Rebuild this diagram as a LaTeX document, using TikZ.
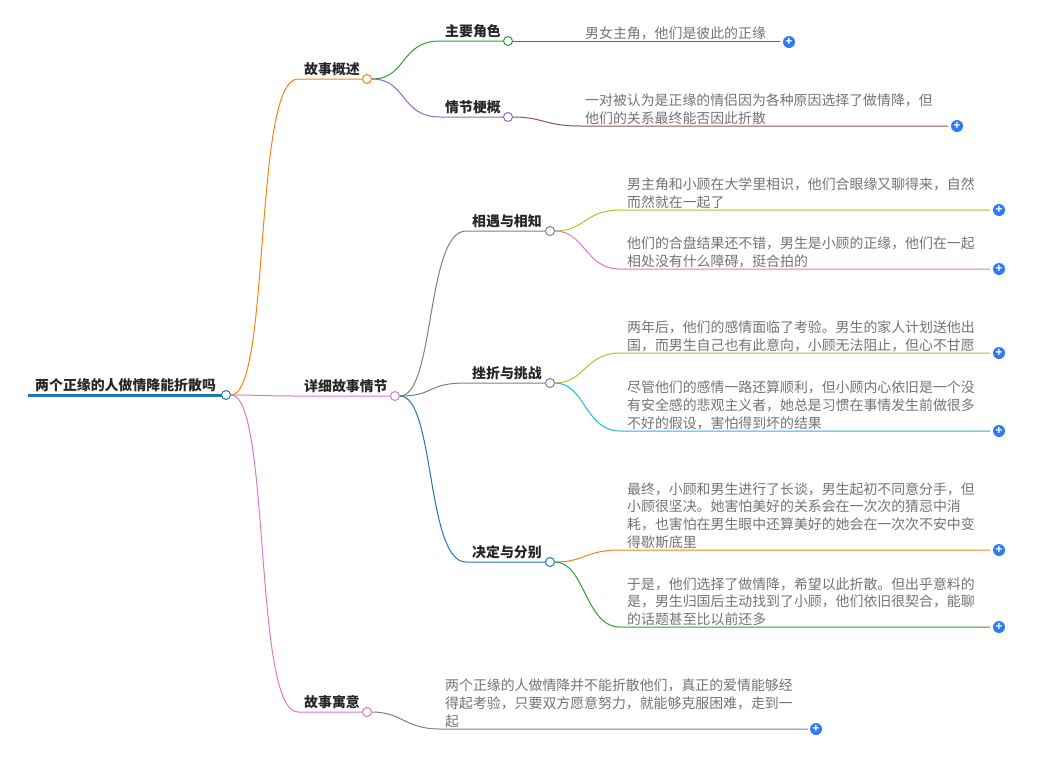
\documentclass[tikz,border=0pt]{standalone}
\usepackage{fontspec}
\setmainfont{Noto Sans CJK SC}
\usetikzlibrary{positioning}
\definecolor{corange}{HTML}{FF7F0E}
\definecolor{cgreen}{HTML}{2CA02C}
\definecolor{cred}{HTML}{B0413E}
\definecolor{cpurple}{HTML}{9467BD}
\definecolor{cbrown}{HTML}{8C564B}
\definecolor{cpink}{HTML}{E377C2}
\definecolor{cgray}{HTML}{7F7F7F}
\definecolor{colive}{HTML}{BCBD22}
\definecolor{ccyan}{HTML}{17BECF}
\definecolor{cblue}{HTML}{1F77B4}
\definecolor{cplus}{HTML}{2F7BF5}
\begin{document}
\begin{tikzpicture}[x=1pt,y=-1pt,
    every node/.style={font=\fontsize{13.9}{17.8}\selectfont},
    topic/.style={anchor=south west, inner sep=0pt, font=\fontsize{13.9}{16}\selectfont\bfseries, text=black!85},
    leaf/.style={anchor=south west, inner sep=0pt, align=left, text=black!55},
    knob/.style={circle, draw=#1, fill=white, line width=1pt, minimum size=9pt, inner sep=0pt},
    plus/.style={circle, fill=cplus, minimum size=12pt, inner sep=0pt, text=white, font=\bfseries\fontsize{11}{11}\selectfont},
    link/.style={draw=#1, line width=1pt}
]
\useasboundingbox (0,0) rectangle (1052,756);

% root
\node[topic] (root) at (35,392) {两个正缘的人做情降能折散吗};
\draw[cblue, line width=3pt] (28,395) -- (222,395);
\node[knob=cblue] (kroot) at (226,395) {};

% level one
\node[topic] (sum) at (304,76) {故事概述};
\node[knob=corange] (ksum) at (367,79) {};
\node[topic] (det) at (304,393) {详细故事情节};
\node[knob=cpink] (kdet) at (395,396) {};
\node[topic] (mor) at (304,709) {故事寓意};
\node[knob=cpink] (kmor) at (367,712) {};
\coordinate (csum) at (298,79);
\coordinate (cdet) at (298,396);
\coordinate (cmor) at (298,712);
\draw[link=corange] (kroot) .. controls +(45,0) and +(-45,0) .. (csum) -- (ksum);
\draw[link=cpink] (kroot) .. controls +(35,0) and +(-35,0) .. (cdet) -- (kdet);
\draw[link=cpink] (kroot) .. controls +(45,0) and +(-45,0) .. (cmor) -- (kmor);

% level two
\node[topic] (role) at (445,38) {主要角色};
\node[knob=cgreen] (krole) at (508,41) {};
\node[topic] (plot) at (445,114) {情节梗概};
\node[knob=cpurple] (kplot) at (508,117) {};
\draw[link=cgreen] (ksum) .. controls +(40,0) and +(-40,0) .. (440,41) -- (krole);
\draw[link=cpurple] (ksum) .. controls +(40,0) and +(-40,0) .. (440,117) -- (kplot);

\node[topic] (meet) at (472,228) {相遇与相知};
\node[knob=cgray] (kmeet) at (550,231) {};
\node[topic] (hard) at (472,380) {挫折与挑战};
\node[knob=cgray] (khard) at (550,383) {};
\node[topic] (part) at (472,559) {决定与分别};
\node[knob=cblue] (kpart) at (550,562) {};
\draw[link=cgray] (kdet) .. controls +(40,0) and +(-40,0) .. (466,231) -- (kmeet);
\draw[link=cgray] (kdet) .. controls +(40,0) and +(-40,0) .. (466,383) -- (khard);
\draw[link=cblue] (kdet) .. controls +(40,0) and +(-40,0) .. (466,562) -- (kpart);

% leaves
\node[leaf] (l1) at (585,40) {男女主角，他们是彼此的正缘};
\node[plus] (p1) at (789,42) {+};
\draw[link=cred] (krole) -- (780,41);
\node[leaf] (l2) at (585,125) {一对被认为是正缘的情侣因为各种原因选择了做情降，但\\他们的关系最终能否因此折散};
\node[plus] (p2) at (957,126) {+};
\draw[link=cbrown] (kplot) .. controls +(35,0) and +(-35,0) .. (580,126) -- (948,126);

\node[leaf] (l3) at (627,209) {男主角和小顾在大学里相识，他们合眼缘又聊得来，自然\\而然就在一起了};
\node[plus] (p3) at (999,210) {+};
\draw[link=colive] (kmeet) .. controls +(35,0) and +(-35,0) .. (620,210) -- (990,210);
\node[leaf] (l4) at (627,268) {他们的合盘结果还不错，男生是小顾的正缘，他们在一起\\相处没有什么障碍，挺合拍的};
\node[plus] (p4) at (999,269) {+};
\draw[link=cpink] (kmeet) .. controls +(35,0) and +(-35,0) .. (620,269) -- (990,269);

\node[leaf] (l5) at (627,352) {两年后，他们的感情面临了考验。男生的家人计划送他出\\国，而男生自己也有此意向，小顾无法阻止，但心不甘愿};
\node[plus] (p5) at (999,353) {+};
\draw[link=colive] (khard) .. controls +(35,0) and +(-35,0) .. (620,353) -- (990,353);
\node[leaf] (l6) at (627,430) {尽管他们的感情一路还算顺利，但小顾内心依旧是一个没\\有安全感的悲观主义者，她总是习惯在事情发生前做很多\\不好的假设，害怕得到坏的结果};
\node[plus] (p6) at (999,431) {+};
\draw[link=ccyan] (khard) .. controls +(35,0) and +(-35,0) .. (620,431) -- (990,431);

\node[leaf] (l7) at (627,549) {最终，小顾和男生进行了长谈，男生起初不同意分手，但\\小顾很坚决。她害怕美好的关系会在一次次的猜忌中消\\耗，也害怕在男生眼中还算美好的她会在一次次不安中变\\得歇斯底里};
\node[plus] (p7) at (999,550) {+};
\draw[link=corange] (kpart) .. controls +(35,0) and +(-35,0) .. (620,550) -- (990,550);
\node[leaf] (l8) at (627,626) {于是，他们选择了做情降，希望以此折散。但出乎意料的\\是，男生归国后主动找到了小顾，他们依旧很契合，能聊\\的话题甚至比以前还多};
\node[plus] (p8) at (999,627) {+};
\draw[link=cgreen] (kpart) .. controls +(35,0) and +(-35,0) .. (620,627) -- (990,627);

\node[leaf] (l9) at (445,728) {两个正缘的人做情降并不能折散他们，真正的爱情能够经\\得起考验，只要双方愿意努力，就能够克服困难，走到一\\起};
\node[plus] (p9) at (816,729) {+};
\draw[link=cgray] (kmor) .. controls +(35,0) and +(-35,0) .. (440,729) -- (808,729);
\end{tikzpicture}
\end{document}
